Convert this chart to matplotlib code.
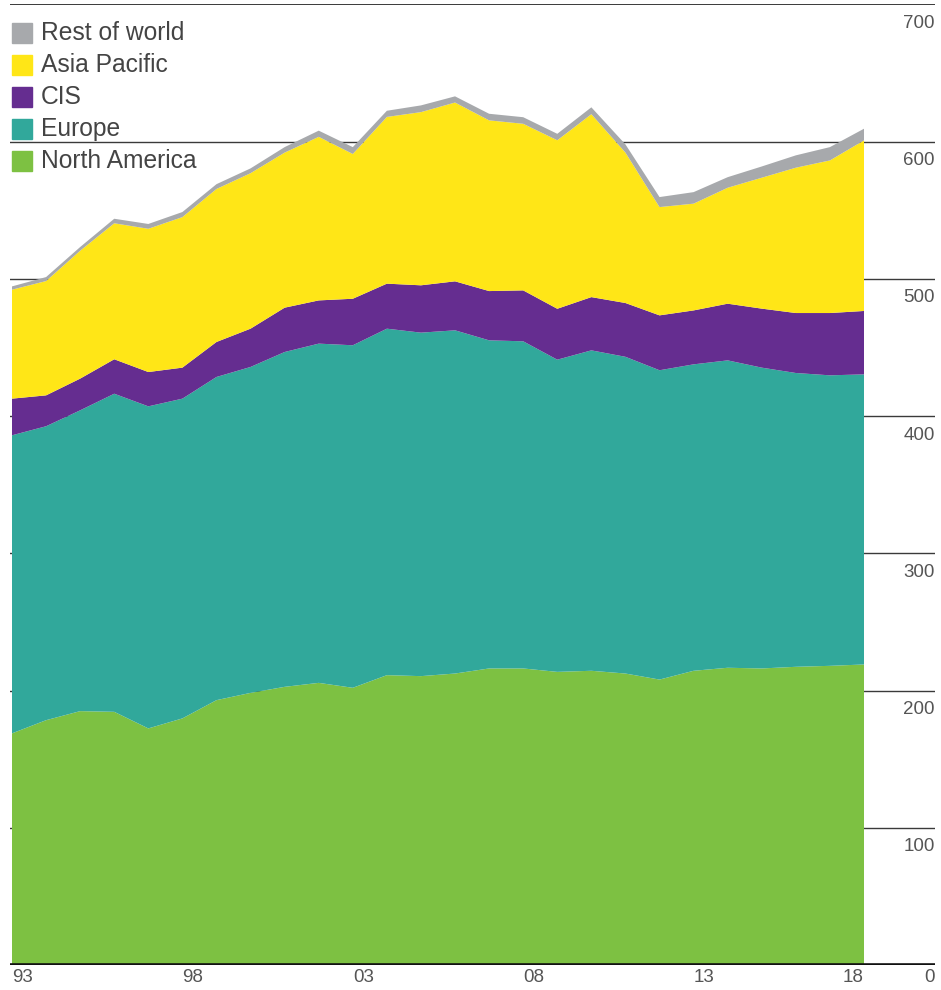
import matplotlib
matplotlib.use("Agg")
import matplotlib.pyplot as plt
from matplotlib.patches import Rectangle

years = list(range(1993, 2019))
north_america = [168.8, 178.4, 185.0, 184.5, 172.4, 179.7, 193.0, 198.3, 202.7, 205.6,
                 202.0, 211.2, 210.5, 212.4, 216.1, 216.1, 213.6, 214.4, 212.4, 208.0,
                 214.4, 216.6, 216.1, 217.3, 218.0, 219.0]
europe = [217.2, 214.2, 219.2, 231.8, 234.7, 233.0, 235.5, 237.5, 244.0, 247.2,
          249.6, 252.5, 250.3, 250.1, 239.1, 238.4, 227.5, 233.5, 230.8, 225.4,
          223.3, 224.0, 219.2, 214.1, 211.7, 211.4]
cis = [26.7, 22.5, 23.1, 25.1, 25.0, 22.6, 25.5, 27.9, 32.3, 31.5,
       33.9, 32.8, 34.5, 35.7, 35.9, 37.1, 37.1, 38.8, 39.2, 40.0,
       39.3, 41.3, 43.0, 43.7, 45.4, 46.2]
asia_pacific = [79.4, 83.3, 93.2, 99.1, 104.4, 109.7, 111.5, 113.3, 113.0, 119.2,
                105.5, 121.5, 126.2, 130.3, 124.4, 121.4, 122.8, 133.3, 109.6, 78.9,
                77.8, 84.5, 95.4, 105.9, 111.2, 124.3]
rest_of_world = [2.4, 2.9, 2.7, 3.3, 3.5, 3.7, 3.5, 3.5, 4.0, 4.5,
                 5.0, 4.5, 4.9, 4.5, 4.8, 4.8, 4.7, 5.0, 6.0, 7.3,
                 8.4, 7.7, 8.2, 9.0, 9.7, 8.5]

series_names = ["North America", "Europe", "CIS", "Asia Pacific", "Rest of world"]
colors = ["#7DC142", "#31A89B", "#652D90", "#FFE617", "#A7A9AC"]
yticks = [100, 200, 300, 400, 500, 600, 700]
xtick_years = [1993, 1998, 2003, 2008, 2013, 2018]
xtick_labels = ["93", "98", "03", "08", "13", "18"]

plt.rcParams['font.family'] = ['Liberation Sans', 'DejaVu Sans']

W, H = 941, 990
fig = plt.figure(figsize=(W / 100, H / 100), dpi=100)
left_px, right_px = 10, 935
bottom_px, top_px = 965, 4.4
ax = fig.add_axes([left_px / W, (H - bottom_px) / H,
                   (right_px - left_px) / W, (bottom_px - top_px) / H])
px_per_year = 34.08
x0 = 1993 - (12 - left_px) / px_per_year
x1 = 1993 + (right_px - 12) / px_per_year
ax.set_xlim(x0, x1)
ax.set_ylim(0, 700)
ax.axis("off")

# gridlines behind areas
for v in yticks:
    lw = 1.4 if v == 700 else 1.0
    ax.axhline(v, color="#3a3a3a", lw=lw, zorder=0)
ax.axhline(0, color="#111111", lw=2.6, zorder=5)

ax.stackplot(years, north_america, europe, cis, asia_pacific, rest_of_world,
             colors=colors, linewidth=0, zorder=2)

px_per_unit = (bottom_px - top_px) / 700

# y labels on right, below each line
for v in yticks:
    ypx = bottom_px - v * px_per_unit + 19
    fig.text(right_px / W, (H - ypx) / H, str(v), ha="right", va="center",
             fontsize=13.5, color="#555555")
fig.text(right_px / W, (H - 978) / H, "0", ha="right", va="center",
         fontsize=13.5, color="#555555")

# x labels
label_y = -13 / px_per_unit
for yr, lab in zip(xtick_years, xtick_labels):
    ha = "right" if yr == 2018 else "left"
    ax.text(yr, label_y, lab, ha=ha, va="center", fontsize=13.5, color="#555555",
            clip_on=False)

# legend
legend_order = ["Rest of world", "Asia Pacific", "CIS", "Europe", "North America"]
for i, name in enumerate(legend_order):
    c = colors[series_names.index(name)]
    yc = 33 + i * 32
    fig.patches.append(Rectangle((12 / W, (H - yc - 10) / H), 20 / W, 20 / H,
                                 transform=fig.transFigure, color=c))
    fig.text(41 / W, (H - yc) / H, name, ha="left", va="center",
             fontsize=17.7, color="#444444")

fig.savefig("out.png", dpi=100)
